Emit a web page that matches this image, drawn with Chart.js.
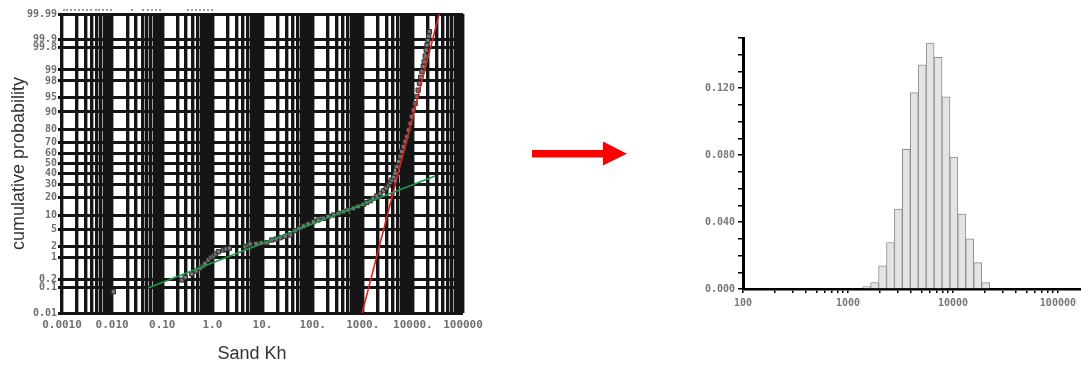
<!DOCTYPE html>
<html>
<head>
<meta charset="utf-8">
<script src="https://cdn.jsdelivr.net/npm/chart.js@4.4.1/dist/chart.umd.min.js"></script>
<style>
  html, body { margin: 0; padding: 0; background: #fff; width: 1081px; height: 365px; overflow: hidden; }
  #wrap { position: relative; width: 1081px; height: 365px; }
  canvas { position: absolute; top: 0; }
  #probCanvas { left: 0; }
  #histCanvas { left: 680px; }
  #xTitle { position: absolute; left: 152px; width: 200px; top: 343px; line-height: 18px;
            text-align: center; font: 18px "Liberation Sans", Arial, sans-serif; color: #333; }
  .crumb { position: absolute; top: 9px; height: 0; border-top: 2px dotted #9a9a9a; }
  #arrow { position: absolute; left: 0; top: 0; }
</style>
</head>
<body>
<div id="wrap">
  <canvas id="probCanvas" width="490" height="365"></canvas>
  <div class="crumb" style="left:63px;width:29px"></div>
  <div class="crumb" style="left:95px;width:13px"></div>
  <div class="crumb" style="left:110px;width:2px"></div>
  <div class="crumb" style="left:131px;width:2px"></div>
  <div class="crumb" style="left:142px;width:19px"></div>
  <div class="crumb" style="left:187px;width:26px"></div>
  <div id="xTitle">Sand Kh</div>
  <svg id="arrow" width="1081" height="365">
    <rect x="532" y="150" width="72" height="7.5" fill="#ff0000"></rect>
    <polygon points="603,141.5 627,153.7 603,165.5" fill="#ff0000"></polygon>
  </svg>
  <canvas id="histCanvas" width="401" height="365"></canvas>
</div>
<script>
// Sand Kh samples and their cumulative probability (%)
const khValues = [0.0106, 0.245, 0.285, 0.388, 0.473, 0.568, 0.652, 0.714, 0.832, 0.942, 1.05, 1.16,
  1.32, 1.66, 1.87, 2.18, 4.50, 5.16, 5.65, 7.45, 9.38, 12.2, 15.3, 18.7, 22.5, 28.2, 35.6, 44.8,
  53.8, 65.5, 81.3, 104, 129, 164, 204, 260, 323, 412, 511, 652, 809, 1033, 1197, 1405, 1614, 1911,
  2225, 2588, 2933, 3258, 3524, 3811, 4140, 4436, 4797, 5212, 5585, 5975, 6493, 7020, 7586, 8248,
  8831, 9470, 10280, 11120, 12020, 12770, 13550, 14320, 15140, 16070, 16830, 17620, 18420, 19140,
  19920, 20670, 21430];
const cumProb = [0.071, 0.188, 0.232, 0.30, 0.375, 0.457, 0.54, 0.65, 0.82, 0.97, 1.07, 1.22,
  1.41, 1.57, 1.67, 1.75, 1.92, 2.07, 2.26, 2.33, 2.40, 2.44, 2.85, 3.02, 3.24, 3.47, 3.76, 4.73,
  5.29, 6.0, 6.62, 7.38, 8.0, 8.64, 9.37, 10.0, 10.7, 11.5, 12.4, 13.3, 14.3, 15.5, 16.6, 17.7, 19.2, 21.0,
  22.8, 24.9, 27.1, 29.6, 31.8, 34.1, 36.8, 40.4, 46.8, 52.0, 56.7, 61.7, 66.2, 70.8, 74.8, 79.8,
  84.1, 87.9, 90.8, 93.2, 95.2, 96.6, 97.7, 98.4, 98.9, 99.21, 99.43, 99.625, 99.76, 99.84,
  99.89, 99.924, 99.948];

// lognormal fit lines (end points)
const lowFitKh = [0.052, 27870];
const lowFitProb = [0.098, 37.8];
const highFitKh = [973, 33500];
const highFitProb = [0.01, 99.99];

// probability axis levels and labels
const probLevels = [0.01, 0.1, 0.2, 1, 2, 5, 10, 20, 30, 40, 50, 60, 70, 80, 90, 95, 98, 99, 99.8, 99.9, 99.99];
const probLabels = ['0.01', '0.1', '0.2', '1', '2', '5', '10', '20', '30', '40', '50', '60', '70', '80',
  '90', '95', '98', '99', '99.8', '99.9', '99.99'];
const khDecades = [0.001, 0.01, 0.1, 1, 10, 100, 1000, 10000, 100000];
const khDecadeLabels = ['0.0010', '0.010', '0.10', '1.0', '10.', '100.', '1000.', '10000.', '100000'];

// histogram of Kh (log bins)
const binCenters = [1507, 1794, 2134, 2541, 3020, 3597, 4282, 5094, 6066, 7211, 8590, 10210, 12160, 14480, 17220, 20510];
const binFreq = [0.0014, 0.0038, 0.0138, 0.0278, 0.0478, 0.0834, 0.1174, 0.134, 0.147, 0.1384,
  0.1148, 0.0788, 0.0448, 0.030, 0.0158, 0.0038];
const histDecades = [100, 1000, 10000, 100000];
const histDecadeLabels = ['100', '1000', '10000', '100000'];
const histKhMax = 166000;
const freqLabels = ['0.000', '0.040', '0.080', '0.120'];
const freqMax = 0.15;

// inverse standard normal CDF (Acklam)
function probit(p) {
  const a = [-3.969683028665376e+01, 2.209460984245205e+02, -2.759285104469687e+02, 1.383577518672690e+02, -3.066479806614716e+01, 2.506628277459239e+00];
  const b = [-5.447609879822406e+01, 1.615858368580409e+02, -1.556989798598866e+02, 6.680131188771972e+01, -1.328068155288572e+01];
  const c = [-7.784894002430293e-03, -3.223964580411365e-01, -2.400758277161838e+00, -2.549732539343734e+00, 4.374664141464968e+00, 2.938163982698783e+00];
  const d = [7.784695709041462e-03, 3.224671290700398e-01, 2.445134137142996e+00, 3.754408661907416e+00];
  const pl = 0.02425, ph = 1 - pl;
  let q, r;
  if (p < pl) {
    q = Math.sqrt(-2 * Math.log(p));
    return (((((c[0]*q+c[1])*q+c[2])*q+c[3])*q+c[4])*q+c[5]) / ((((d[0]*q+d[1])*q+d[2])*q+d[3])*q+1);
  }
  if (p <= ph) {
    q = p - 0.5; r = q * q;
    return (((((a[0]*r+a[1])*r+a[2])*r+a[3])*r+a[4])*r+a[5])*q / (((((b[0]*r+b[1])*r+b[2])*r+b[3])*r+b[4])*r+1);
  }
  q = Math.sqrt(-2 * Math.log(1 - p));
  return -(((((c[0]*q+c[1])*q+c[2])*q+c[3])*q+c[4])*q+c[5]) / ((((d[0]*q+d[1])*q+d[2])*q+d[3])*q+1);
}

// 1..9 ticks in every decade, labelled only at the decade marks
function logTicks(decades, labels, maxValue) {
  const out = [];
  decades.forEach((dec, i) => {
    for (let k = 1; k <= 9; k++) {
      const v = k * dec;
      if (v > maxValue * 1.0000001) break;
      out.push({ value: v, lbl: k === 1 ? labels[i] : '' });
    }
  });
  return out;
}

const toPoints = (xs, ps) => xs.map((x, i) => ({ x: x, y: probit(ps[i] / 100) }));

const pixelFont = (size) => ({ family: 'DejaVu Sans Mono', size: size, weight: 'bold' });
const labelCb = (v, i, t) => t[i].lbl;

new Chart(document.getElementById('probCanvas'), {
  type: 'scatter',
  data: {
    datasets: [
      { data: toPoints(lowFitKh, lowFitProb), showLine: true, borderColor: '#1f9a4c', borderWidth: 1.6,
        pointRadius: 0, order: 1 },
      { data: toPoints(highFitKh, highFitProb), showLine: true, borderColor: '#e5211c', borderWidth: 1.6,
        pointRadius: 0, order: 1 },
      { data: toPoints(khValues, cumProb), pointStyle: 'rect', pointRadius: 3,
        backgroundColor: '#7a7a7a', borderColor: '#2a2a2a', borderWidth: 1, order: 2 }
    ]
  },
  options: {
    responsive: false, animation: false, events: [],
    layout: { padding: { top: 14, right: 27, left: 0, bottom: 0 } },
    plugins: { legend: { display: false }, tooltip: { enabled: false } },
    scales: {
      x: {
        type: 'logarithmic', min: khDecades[0], max: khDecades[khDecades.length - 1],
        afterBuildTicks: s => { s.ticks = logTicks(khDecades, khDecadeLabels, khDecades[khDecades.length - 1]); },
        afterFit: s => { s.height = 52; },
        grid: { color: '#151515', lineWidth: 3.4, drawTicks: false },
        border: { display: false },
        ticks: { autoSkip: false, maxRotation: 0, padding: 6, color: '#6f6f6f', font: pixelFont(11), callback: labelCb }
      },
      y: {
        type: 'linear', min: probit(probLevels[0] / 100), max: probit(probLevels[probLevels.length - 1] / 100),
        afterBuildTicks: s => { s.ticks = probLevels.map((p, i) => ({ value: probit(p / 100), lbl: probLabels[i] })); },
        afterFit: s => { s.width = 62; },
        grid: { color: '#151515', lineWidth: 3, tickLength: 4 },
        border: { display: false },
        title: { display: true, text: 'cumulative probability', color: '#333',
                 font: { family: 'Liberation Sans', size: 18 }, padding: { top: 8, bottom: 0 } },
        ticks: { autoSkip: false, padding: 1, color: '#6f6f6f', font: pixelFont(10), callback: labelCb }
      }
    }
  }
});

new Chart(document.getElementById('histCanvas'), {
  type: 'bar',
  data: {
    datasets: [{
      data: binCenters.map((c, i) => ({ x: c, y: binFreq[i] })),
      backgroundColor: '#e4e4e4', borderColor: '#8e8e8e', borderWidth: 1,
      barThickness: 'flex', barPercentage: 1, categoryPercentage: 1
    }]
  },
  options: {
    responsive: false, animation: false, events: [],
    layout: { padding: { top: 38, right: 0, left: 0, bottom: 0 } },
    plugins: { legend: { display: false }, tooltip: { enabled: false } },
    scales: {
      x: {
        type: 'logarithmic', min: histDecades[0], max: histKhMax, offset: false,
        afterBuildTicks: s => { s.ticks = logTicks(histDecades, histDecadeLabels, histKhMax); },
        afterFit: s => { s.height = 76; },
        grid: { drawOnChartArea: false, drawTicks: true, tickLength: 4, color: '#000', lineWidth: 1.5, offset: false },
        border: { display: true, color: '#000', width: 2.5 },
        ticks: { autoSkip: false, maxRotation: 0, padding: 4, color: '#777', font: pixelFont(10), callback: labelCb }
      },
      y: {
        type: 'linear', min: 0, max: freqMax,
        afterBuildTicks: s => {
          const t = [];
          for (let i = 0; i <= 15; i++) t.push({ value: i / 100, lbl: i % 4 === 0 ? freqLabels[i / 4] : '' });
          s.ticks = t;
        },
        afterFit: s => { s.width = 63; },
        grid: { drawOnChartArea: false, tickLength: 5, color: '#000', lineWidth: 1.5 },
        border: { display: true, color: '#000', width: 3 },
        ticks: { autoSkip: false, padding: 3, color: '#777', font: pixelFont(10), callback: labelCb }
      }
    }
  }
});
</script>
</body>
</html>
